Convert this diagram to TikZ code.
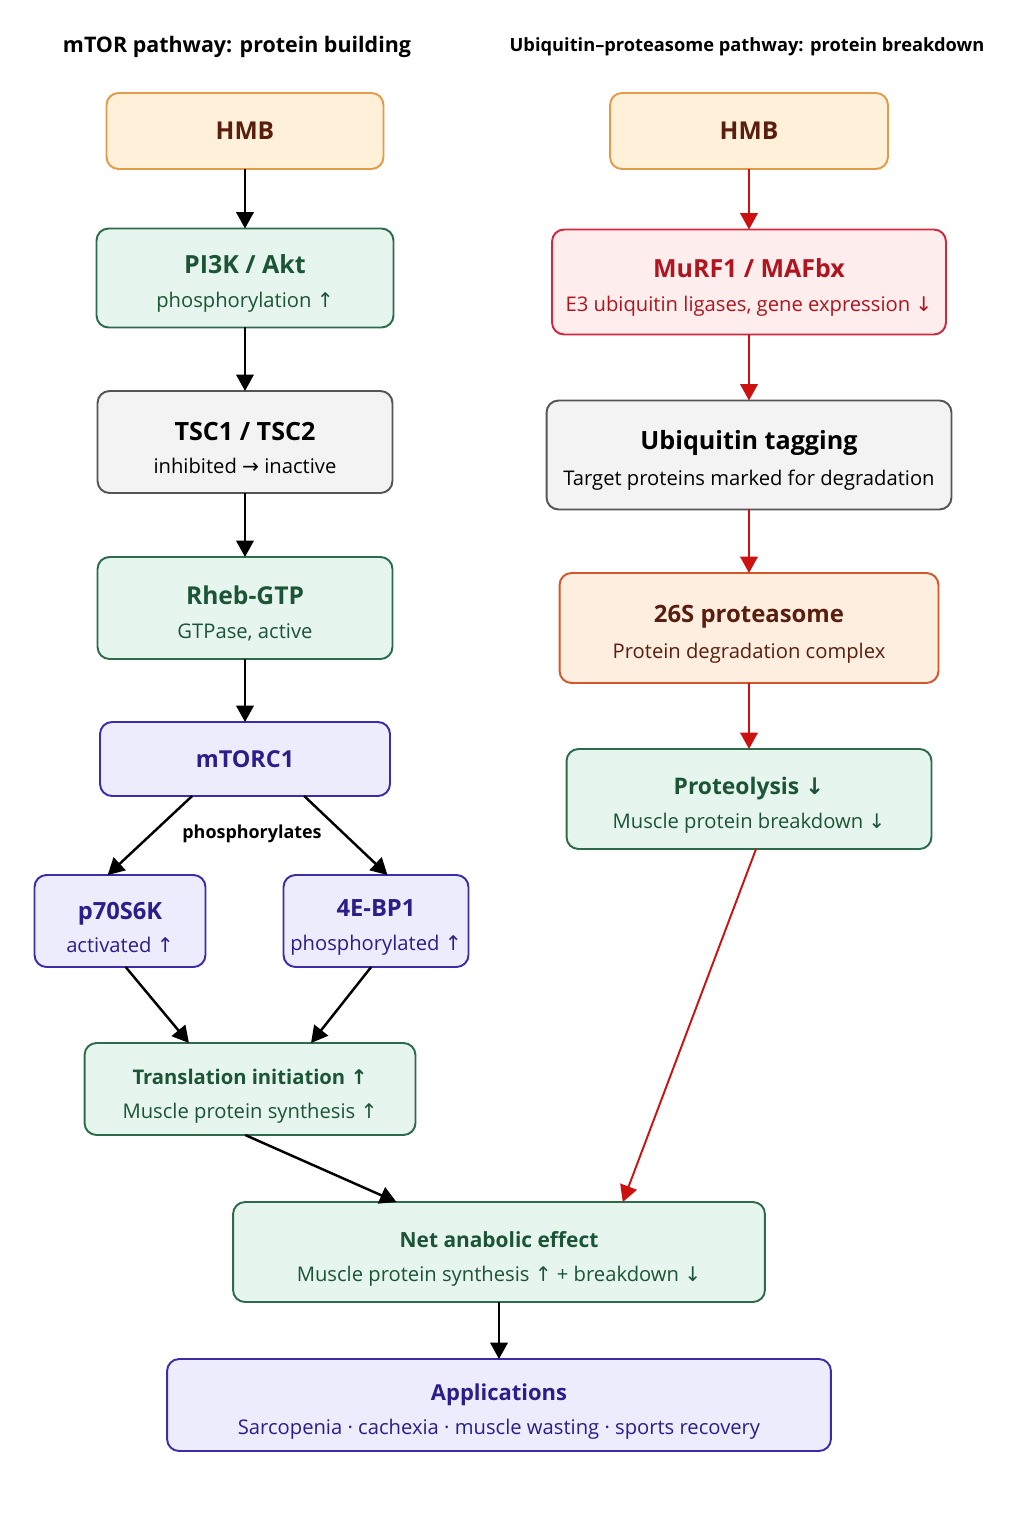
\documentclass[tikz,border=0pt]{standalone}
\usepackage{fontspec}
\setmainfont{Open Sans}
\newfontfamily\symfont{DejaVu Sans}
\usetikzlibrary{arrows.meta}

\definecolor{hmbfill}{HTML}{FFF0D9}
\definecolor{hmbdraw}{HTML}{E39B4A}
\definecolor{hmbtext}{HTML}{5A1E0E}
\definecolor{grnfill}{HTML}{E6F5EE}
\definecolor{grndraw}{HTML}{2E6B4A}
\definecolor{grntext}{HTML}{1B5535}
\definecolor{gryfill}{HTML}{F3F3F3}
\definecolor{grydraw}{HTML}{555555}
\definecolor{vltfill}{HTML}{EDECFC}
\definecolor{vltdraw}{HTML}{3B2DAA}
\definecolor{vlttext}{HTML}{2A1E8A}
\definecolor{redfill}{HTML}{FDEDED}
\definecolor{reddraw}{HTML}{D0283C}
\definecolor{redtext}{HTML}{B0141E}
\definecolor{pchfill}{HTML}{FDEEE0}
\definecolor{pchdraw}{HTML}{D2572A}
\definecolor{arrred}{HTML}{CC1111}

\newcommand{\uparr}{{\symfont\char"2191}}
\newcommand{\dnarr}{{\symfont\char"2193}}
\newcommand{\rtarr}{{\symfont\char"2192}}
\newcommand{\twoline}[3][14]{\rule{0pt}{17pt}{\fontsize{#1}{17}\selectfont\bfseries #2}\\[7pt]{\fontsize{11.5}{14}\selectfont #3}}

\begin{document}
\begin{tikzpicture}[x=0.02cm,y=-0.02cm,
  box/.style={rounded corners=2.4mm,line width=1.1pt,align=center,inner sep=0pt,outer sep=0pt},
  hmbbox/.style={box,fill=hmbfill,draw=hmbdraw,text=hmbtext},
  greenbox/.style={box,fill=grnfill,draw=grndraw,text=grntext},
  greybox/.style={box,fill=gryfill,draw=grydraw,text=black},
  violetbox/.style={box,fill=vltfill,draw=vltdraw,text=vlttext},
  redbox/.style={box,fill=redfill,draw=reddraw,text=redtext},
  peachbox/.style={box,fill=pchfill,draw=pchdraw,text=hmbtext},
  arr/.style={-{Triangle[length=3.3mm,width=3.5mm]},line width=1.4pt},
  redarr/.style={arr,draw=arrred,color=arrred},
  heading/.style={font=\fontsize{12.2}{15}\selectfont\bfseries}]
\useasboundingbox (0,0) rectangle (1023,1537);

% column titles
\node[heading] (ltitle) at (237,47) {mTOR pathway: protein building};
\node[heading,font=\fontsize{10.4}{13}\selectfont\bfseries] (rtitle) at (747,47) {Ubiquitin–proteasome pathway: protein breakdown};

% mTOR side
\node[hmbbox,minimum width=5.54cm,minimum height=1.52cm] (hmbl) at (245,131) {\fontsize{14}{17}\selectfont\bfseries HMB};
\node[greenbox,minimum width=5.94cm,minimum height=1.98cm] (pik) at (245,278) {\twoline[14.2]{PI3K / Akt}{phosphorylation \uparr}};
\node[greybox,minimum width=5.9cm,minimum height=2.04cm] (tsc) at (245,442) {\twoline[14.3]{TSC1 / TSC2}{inhibited \rtarr\ inactive}};
\node[greenbox,minimum width=5.9cm,minimum height=2.04cm] (rheb) at (245,608) {\twoline{Rheb-GTP}{GTPase, active}};
\node[violetbox,minimum width=5.8cm,minimum height=1.48cm] (mtorc) at (245,759) {\fontsize{13.3}{16}\selectfont\bfseries mTORC1};
\node[font=\fontsize{10.2}{13}\selectfont\bfseries] (phos) at (252,834) {phosphorylates};
\node[violetbox,minimum width=3.42cm,minimum height=1.84cm] (p70) at (120,921) {\twoline[13.5]{p70S6K}{activated \uparr}};
\node[violetbox,minimum width=3.7cm,minimum height=1.84cm] (ebp) at (376,921) {\twoline[13.5]{4E-BP1}{phosphorylated \uparr}};
\node[greenbox,minimum width=6.62cm,minimum height=1.84cm] (trans) at (250,1089) {\twoline[11.5]{Translation initiation \uparr}{Muscle protein synthesis \uparr}};

% ubiquitin side
\node[hmbbox,minimum width=5.56cm,minimum height=1.52cm] (hmbr) at (749,131) {\fontsize{14}{17}\selectfont\bfseries HMB};
\node[redbox,minimum width=7.88cm,minimum height=2.1cm] (murf) at (749,282) {\twoline[14.2]{MuRF1 / MAFbx}{E3 ubiquitin ligases, gene expression \dnarr}};
\node[greybox,minimum width=8.1cm,minimum height=2.18cm] (ubi) at (749,455) {\twoline[14.3]{Ubiquitin tagging}{Target proteins marked for degradation}};
\node[peachbox,minimum width=7.58cm,minimum height=2.2cm] (prot) at (749,628) {\twoline[13.6]{26S proteasome}{Protein degradation complex}};
\node[greenbox,minimum width=7.3cm,minimum height=2.0cm] (lysis) at (749,799) {\twoline[13]{Proteolysis \dnarr}{Muscle protein breakdown \dnarr}};

% bottom
\node[greenbox,minimum width=10.64cm,minimum height=2.0cm] (net) at (499,1252) {\twoline[11.9]{Net anabolic effect}{Muscle protein synthesis \uparr\ + breakdown \dnarr}};
\node[violetbox,minimum width=13.28cm,minimum height=1.84cm] (apps) at (499,1405) {\twoline[12.5]{Applications}{Sarcopenia · cachexia · muscle wasting · sports recovery}};

% connectors
\draw[arr] (hmbl) -- (pik);
\draw[arr] (pik) -- (tsc);
\draw[arr] (tsc) -- (rheb);
\draw[arr] (rheb) -- (mtorc);
\draw[arr] (mtorc.215) -- (p70.105);
\draw[arr] (mtorc.-32) -- (ebp.76);
\draw[arr] (p70.-83) -- (trans.143);
\draw[arr] (ebp.-96) -- (trans.37);
\draw[arr] (trans.-96) -- (net.154);
\draw[redarr] (hmbr) -- (murf);
\draw[redarr] (murf) -- (ubi);
\draw[redarr] (ubi) -- (prot);
\draw[redarr] (prot) -- (lysis);
\draw[redarr,line width=1.1pt] (lysis.-82) -- (net.22);
\draw[arr] (net) -- (apps);
\end{tikzpicture}
\end{document}
